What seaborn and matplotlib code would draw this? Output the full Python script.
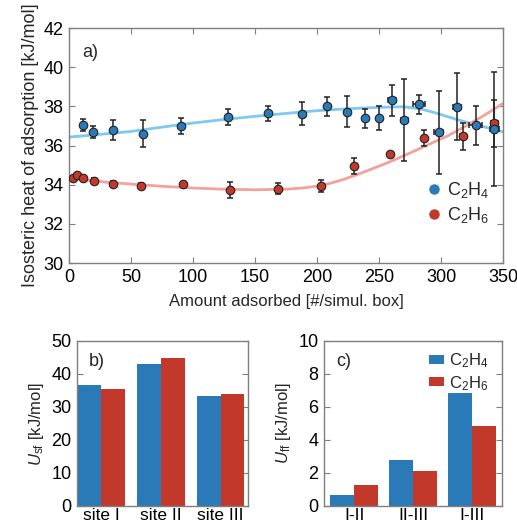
import pandas as pd
import numpy as np
import seaborn as sns
import matplotlib
import matplotlib.pyplot as plt
from matplotlib.lines import Line2D

matplotlib.use('agg')

# ---- panel a) data: isosteric heat vs loading ----
c2h4_x = [11.6, 19.7, 35.8, 59.6, 90.6, 128.3, 160.4, 187.9, 207.8, 224.0, 238.8, 249.6,
          260.4, 270.4, 282.0, 298.1, 313.0, 328.0, 343.0]
c2h4_y = [37.05, 36.69, 36.80, 36.60, 37.00, 37.46, 37.64, 37.63, 38.00, 37.73, 37.39, 37.40,
          38.31, 37.32, 38.10, 36.67, 37.98, 37.03, 36.84]
c2h4_yerr = [0.3, 0.3, 0.5, 0.7, 0.4, 0.4, 0.4, 0.6, 0.5, 0.8, 0.5, 0.6,
             0.8, 2.1, 0.5, 2.1, 1.7, 1.0, 2.9]
c2h4_xerr = [0, 0, 0, 0, 0, 0, 0, 0, 0, 0, 0, 0,
             3.0, 3.0, 4.7, 3.5, 3.2, 5.4, 3.9]

c2h6_x = [3.0, 6.7, 11.6, 20.5, 35.3, 57.7, 91.9, 130.2, 168.5, 203.0, 230.2, 258.8,
          286.5, 318.0, 343.0]
c2h6_y = [34.34, 34.48, 34.36, 34.20, 34.03, 33.93, 34.02, 33.74, 33.80, 33.93, 34.94, 35.55,
          36.40, 36.47, 37.15]
c2h6_yerr = [0.05, 0.05, 0.05, 0.15, 0.15, 0.15, 0.08, 0.4, 0.3, 0.3, 0.4, 0.1,
             0.4, 0.7, 1.2]
c2h6_xerr = [0, 0, 0, 0, 0, 0, 0, 0, 0, 0, 0, 1.5,
             1.5, 2.5, 3.0]

# fitted curves
fit4_x = [0, 25, 50, 75, 100, 125, 150, 175, 200, 225, 250, 270, 285, 297, 310, 320, 330, 340, 350]
fit4_y = [36.43, 36.57, 36.72, 36.94, 37.15, 37.33, 37.49, 37.64, 37.78, 37.88, 37.95, 37.98,
          37.85, 37.64, 37.38, 37.20, 37.03, 36.87, 36.70]
fit6_x = [12, 30, 50, 75, 100, 125, 150, 175, 190, 200, 210, 220, 230, 240, 258, 275, 292,
          305, 319, 335, 350]
fit6_y = [34.25, 34.13, 34.03, 33.92, 33.83, 33.77, 33.74, 33.77, 33.84, 33.93, 34.06, 34.24,
          34.46, 34.70, 35.15, 35.62, 36.11, 36.48, 36.96, 37.55, 38.15]

# ---- panels b) and c) data ----
sites = ['site I', 'site II', 'site III']
usf_c2h4 = [36.6, 43.0, 33.2]
usf_c2h6 = [35.5, 44.8, 33.9]
pairs = ['I-II', 'II-III', 'I-III']
uff_c2h4 = [0.65, 2.81, 6.87]
uff_c2h6 = [1.29, 2.14, 4.83]

lab4 = 'C$_2$H$_4$'
lab6 = 'C$_2$H$_6$'
blue = '#2a7ab8'
red = '#c2392b'
blue_fit = '#7dc9f0'
red_fit = '#f4a19b'

sns.set_style('ticks')
plt.rcParams['font.family'] = ['Liberation Sans', 'DejaVu Sans']
plt.rcParams['mathtext.fontset'] = 'custom'
plt.rcParams['mathtext.rm'] = 'Liberation Sans'
plt.rcParams['mathtext.it'] = 'Liberation Sans:italic'
plt.rcParams['mathtext.bf'] = 'Liberation Sans:bold'
plt.rcParams['axes.edgecolor'] = '#7f7f7f'
plt.rcParams['axes.linewidth'] = 1.0
plt.rcParams['xtick.color'] = '#7f7f7f'
plt.rcParams['ytick.color'] = '#7f7f7f'
plt.rcParams['xtick.labelcolor'] = 'black'
plt.rcParams['ytick.labelcolor'] = 'black'

fig = plt.figure(figsize=(5.17, 5.29), dpi=100)
ax = fig.add_axes([0.1335, 0.5028, 0.8395, 0.4442])
axb = fig.add_axes([0.149, 0.0435, 0.3308, 0.3119])
axc = fig.add_axes([0.6267, 0.0435, 0.3443, 0.3119])

# panel a
sns.lineplot(x=fit4_x, y=fit4_y, color=blue_fit, lw=2, ax=ax, zorder=1)
sns.lineplot(x=fit6_x, y=fit6_y, color=red_fit, lw=2, ax=ax, zorder=1)
ax.errorbar(c2h6_x, c2h6_y, yerr=c2h6_yerr, xerr=c2h6_xerr, fmt='none', ecolor='#222222',
            elinewidth=1.1, capsize=2.5, capthick=1.1, zorder=2)
ax.errorbar(c2h4_x, c2h4_y, yerr=c2h4_yerr, xerr=c2h4_xerr, fmt='none', ecolor='#222222',
            elinewidth=1.1, capsize=2.5, capthick=1.1, zorder=2)
sns.scatterplot(x=c2h6_x, y=c2h6_y, color=red, edgecolor='#222222', linewidth=0.8, s=38,
                ax=ax, zorder=3)
sns.scatterplot(x=c2h4_x, y=c2h4_y, color=blue, edgecolor='#222222', linewidth=0.8, s=38,
                ax=ax, zorder=3)
ax.set_xlim(0, 350)
ax.set_ylim(30, 42)
ax.set_xticks(range(0, 351, 50))
ax.set_yticks(range(30, 43, 2))
ax.set_xlabel('Amount adsorbed [#/simul. box]', fontsize=12, labelpad=6)
ax.set_ylabel('Isosteric heat of adsorption [kJ/mol]', fontsize=13, labelpad=3)
ax.text(0.03, 0.93, 'a)', transform=ax.transAxes, fontsize=13, va='top')
handles = [Line2D([], [], marker='o', ls='none', color=blue, markersize=6.5),
           Line2D([], [], marker='o', ls='none', color=red, markersize=6.5)]
ax.legend(handles, [lab4, lab6], loc='lower right', bbox_to_anchor=(0.985, 0.13),
          frameon=False, fontsize=13, handletextpad=0.1, borderaxespad=0.0,
          labelspacing=0.3, handlelength=1.2)

# panels b and c
df_b = pd.DataFrame({'cat': sites * 2, 'val': usf_c2h4 + usf_c2h6,
                     'mol': [lab4] * 3 + [lab6] * 3})
df_c = pd.DataFrame({'cat': pairs * 2, 'val': uff_c2h4 + uff_c2h6,
                     'mol': [lab4] * 3 + [lab6] * 3})
sns.barplot(data=df_b, x='cat', y='val', hue='mol', palette=[blue, red], width=0.8,
            saturation=1, ax=axb, legend=False, edgecolor='none')
sns.barplot(data=df_c, x='cat', y='val', hue='mol', palette=[blue, red], width=0.8,
            saturation=1, ax=axc, edgecolor='none')

axb.set_ylim(0, 50)
axb.set_yticks(range(0, 51, 10))
axb.set_xlim(-0.41, 2.46)
axb.set_ylabel(r'$\mathit{U}_{\rm sf}$ [kJ/mol]', fontsize=12, labelpad=4)
axb.text(0.07, 0.93, 'b)', transform=axb.transAxes, fontsize=13, va='top')

axc.set_ylim(0, 10)
axc.set_yticks(range(0, 11, 2))
axc.set_xlim(-0.51, 2.51)
axc.set_ylabel(r'$\mathit{U}_{\rm ff}$ [kJ/mol]', fontsize=12, labelpad=4)
axc.text(0.07, 0.93, 'c)', transform=axc.transAxes, fontsize=13, va='top')
axc.legend(loc='upper right', bbox_to_anchor=(0.98, 1.0), frameon=False, fontsize=12,
           handlelength=0.9, handleheight=0.45, handletextpad=0.3, borderaxespad=0.2,
           labelspacing=0.25, title=None)

for a in (axb, axc):
    a.set_xlabel('')

for a in (ax, axb, axc):
    a.tick_params(direction='in', top=True, right=True, labelsize=13, length=4, pad=4)
    for s in a.spines.values():
        s.set_visible(True)
axb.tick_params(axis='x', top=False, length=0, pad=1.5, labelsize=12.5)
axc.tick_params(axis='x', top=False, length=0, pad=1.5, labelsize=12.5)

fig.savefig('out.png', dpi=100)
